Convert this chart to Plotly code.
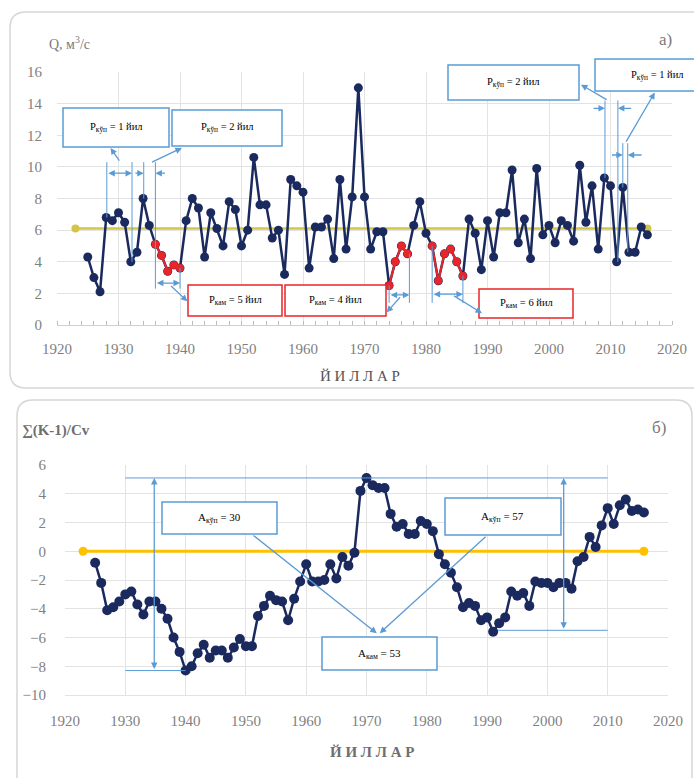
import plotly.graph_objects as go

W, H = 694, 778

years = list(range(1925, 2017))
q_values = [4.3, 3.0, 2.1, 6.8, 6.6, 7.1, 6.5, 4.0, 4.6, 8.0,
            6.3, 5.1, 4.4, 3.4, 3.8, 3.6, 6.6, 8.0, 7.4, 4.3,
            7.1, 6.1, 5.0, 7.8, 7.3, 5.0, 6.0, 10.6, 7.6, 7.6,
            5.5, 6.0, 3.2, 9.2, 8.8, 8.4, 3.6, 6.2, 6.2, 6.7,
            4.2, 9.2, 4.8, 8.1, 15.0, 8.1, 4.8, 5.9, 5.9, 2.5,
            4.0, 5.0, 4.5, 6.3, 7.8, 5.8, 5.0, 2.8, 4.5, 4.8,
            4.0, 3.1, 6.7, 5.8, 3.5, 6.6, 4.3, 7.1, 7.1, 9.8,
            5.2, 6.7, 4.2, 9.9, 5.7, 6.3, 5.2, 6.6, 6.3, 5.3,
            10.1, 6.5, 8.8, 4.8, 9.3, 8.8, 4.0, 8.7, 4.6, 4.6,
            6.2, 5.7]
cum_values = [-0.8, -2.2, -4.1, -3.9, -3.5, -3.0, -2.8, -3.7, -4.4, -3.5,
              -3.5, -4.0, -4.7, -6.0, -7.0, -8.3, -8.0, -7.1, -6.5, -7.4,
              -6.9, -6.9, -7.4, -6.7, -6.1, -6.6, -6.6, -4.5, -3.8, -3.1,
              -3.4, -3.5, -4.8, -3.3, -2.1, -0.9, -2.1, -2.1, -2.0, -0.9,
              -1.9, -0.4, -1.0, -0.1, 4.2, 5.1, 4.6, 4.4, 4.4, 2.6,
              1.7, 1.9, 1.2, 1.2, 2.1, 1.9, 1.4, -0.2, -0.9, -1.5,
              -2.5, -3.9, -3.6, -3.8, -4.8, -4.6, -5.6, -5.0, -4.6, -2.8,
              -3.1, -2.9, -3.8, -2.1, -2.2, -2.2, -2.5, -2.2, -2.2, -2.6,
              -0.7, -0.4, 1.0, 0.3, 1.8, 3.0, 1.9, 3.2, 3.6, 2.8,
              2.9, 2.7]
red_periods = [(1936, 1940), (1974, 1977), (1981, 1986)]
mean_years = [1923, 2016]
mean_q = [6.1, 6.1]
zero_line = [0, 0]
x_ticks = [1920, 1930, 1940, 1950, 1960, 1970, 1980, 1990, 2000, 2010, 2020]
ya_ticks = list(range(0, 17, 2))
yb_ticks = list(range(-10, 7, 2))

box_texts_a_blue = ["Р<sub>кўп</sub> = 1 йил", "Р<sub>кўп</sub> = 2 йил",
                    "Р<sub>кўп</sub> = 2 йил", "Р<sub>кўп</sub> = 1 йил"]
box_texts_a_red = ["Р<sub>кам</sub> = 5 йил", "Р<sub>кам</sub> = 4 йил", "Р<sub>кам</sub> = 6 йил"]
box_texts_b = ["A<sub>кўп</sub> = 30", "A<sub>кўп</sub> = 57", "A<sub>кам</sub> = 53"]

NAVY = "#1b2a5e"
RED = "#e8262a"
BLUE = "#5b9bd5"
GRID = "#e3e3e3"
TICK = "#7f7f7f"
FONT = "Liberation Serif"


def px(x):
    return x / W


def py(y):
    return 1 - y / H


fig = go.Figure()

# ---- panel a traces
fig.add_trace(go.Scatter(x=mean_years, y=mean_q, mode="lines+markers",
                         line=dict(color="#d2c64a", width=2.5),
                         marker=dict(size=8, color="#d2c64a"),
                         xaxis="x", yaxis="y", showlegend=False))
fig.add_trace(go.Scatter(x=years, y=q_values, mode="lines+markers",
                         line=dict(color=NAVY, width=2.5),
                         marker=dict(size=9, color=NAVY),
                         xaxis="x", yaxis="y", showlegend=False))
for a, b in red_periods:
    xs = [yr for yr in years if a <= yr <= b]
    ys = [q_values[years.index(yr)] for yr in xs]
    fig.add_trace(go.Scatter(x=xs, y=ys, mode="lines+markers",
                             line=dict(color=RED, width=2),
                             marker=dict(size=8, color=RED),
                             xaxis="x", yaxis="y", showlegend=False))

# ---- panel b traces
fig.add_trace(go.Scatter(x=mean_years, y=zero_line, mode="lines+markers",
                         line=dict(color="#ffc000", width=3),
                         marker=dict(size=9, color="#ffc000"),
                         xaxis="x2", yaxis="y2", showlegend=False))
fig.add_trace(go.Scatter(x=years, y=cum_values, mode="lines+markers",
                         line=dict(color=NAVY, width=2.5),
                         marker=dict(size=10, color=NAVY),
                         xaxis="x2", yaxis="y2", showlegend=False))

shapes = []
annotations = []


def rounded(x0, y0, x1, y1, r=16):
    path = (f"M {px(x0 + r)},{py(y0)} L {px(x1 - r)},{py(y0)} "
            f"Q {px(x1)},{py(y0)} {px(x1)},{py(y0 + r)} "
            f"L {px(x1)},{py(y1 - r)} Q {px(x1)},{py(y1)} {px(x1 - r)},{py(y1)} "
            f"L {px(x0 + r)},{py(y1)} Q {px(x0)},{py(y1)} {px(x0)},{py(y1 - r)} "
            f"L {px(x0)},{py(y0 + r)} Q {px(x0)},{py(y0)} {px(x0 + r)},{py(y0)} Z")
    shapes.append(dict(type="path", xref="paper", yref="paper", path=path,
                       line=dict(color="#d6d6d6", width=1.5), layer="below"))


rounded(10, 12, 712, 388)
rounded(17, 400, 692, 800)


def vline(ax, x, y0, y1):
    shapes.append(dict(type="line", xref=ax[0], yref=ax[1], x0=x, x1=x, y0=y0, y1=y1,
                       line=dict(color=BLUE, width=1)))


def hline(ax, y, x0, x1):
    shapes.append(dict(type="line", xref=ax[0], yref=ax[1], x0=x0, x1=x1, y0=y, y1=y,
                       line=dict(color=BLUE, width=1)))


def arrow(ax, x0, y0, x1, y1, both=False):
    annotations.append(dict(xref=ax[0], yref=ax[1], axref=ax[0], ayref=ax[1],
                            x=x1, y=y1, ax=x0, ay=y0, text="", showarrow=True,
                            arrowhead=2, arrowsize=1, arrowwidth=1.3,
                            arrowcolor=BLUE,
                            arrowside="end+start" if both else "end"))


def box(x0, y0, x1, y1, text, color, size=10.5):
    shapes.append(dict(type="rect", xref="paper", yref="paper",
                       x0=px(x0), x1=px(x1), y0=py(y1), y1=py(y0),
                       fillcolor="white", line=dict(color=color, width=1.5)))
    annotations.append(dict(xref="paper", yref="paper", x=px((x0 + x1) / 2),
                            y=py((y0 + y1) / 2), text=text, showarrow=False,
                            xanchor="center", yanchor="middle",
                            font=dict(family=FONT, size=size, color="black")))


A = ("x", "y")
B = ("x2", "y2")

# panel a: upper-left brackets
vline(A, 1928.1, 10.3, 6.8)
vline(A, 1932.2, 10.3, 4.0)
vline(A, 1934.1, 10.3, 8.0)
vline(A, 1936.0, 10.3, 2.3)
vline(A, 1940.0, 3.6, 2.3)
arrow(A, 1928.1, 9.6, 1932.2, 9.6, both=True)
arrow(A, 1932.5, 9.6, 1934.1, 9.6)
arrow(A, 1937.8, 9.6, 1936.0, 9.6)
arrow(A, 1930.3, 10.3, 1928.7, 11.2)
arrow(A, 1935.2, 10.25, 1940.3, 11.2)
# red periods
arrow(A, 1936.0, 2.65, 1940.0, 2.65, both=True)
arrow(A, 1938.3, 2.55, 1941.2, 1.5)
vline(A, 1974.0, 2.5, 1.4)
vline(A, 1977.3, 4.5, 1.4)
arrow(A, 1974.0, 1.9, 1977.3, 1.9, both=True)
arrow(A, 1976.0, 1.85, 1973.6, 0.8)
vline(A, 1981.0, 5.0, 1.4)
vline(A, 1986.0, 3.1, 1.4)
arrow(A, 1981.0, 1.95, 1986.0, 1.95, both=True)
arrow(A, 1984.3, 1.9, 1989.1, 0.75)
# upper-right brackets
vline(A, 2009.1, 14.2, 9.3)
vline(A, 2011.2, 14.2, 4.0)
vline(A, 2012.0, 11.5, 8.7)
vline(A, 2012.8, 11.5, 4.6)
arrow(A, 2007.0, 13.7, 2009.1, 13.7)
arrow(A, 2013.6, 13.7, 2011.2, 13.7)
arrow(A, 2010.0, 10.75, 2012.0, 10.75)
arrow(A, 2015.3, 10.75, 2012.8, 10.75)
arrow(A, 2009.6, 14.2, 2005.2, 15.2)
arrow(A, 2012.4, 11.5, 2017.2, 14.7)

box(63, 108, 169, 147, box_texts_a_blue[0], BLUE)
box(172, 110, 282, 146, box_texts_a_blue[1], BLUE)
box(448, 65, 579, 100, box_texts_a_blue[2], BLUE)
box(595, 59, 720, 91, box_texts_a_blue[3], BLUE)
box(188, 285, 282, 316, box_texts_a_red[0], RED)
box(285, 285, 386, 316, box_texts_a_red[1], RED)
box(479, 289, 573, 318, box_texts_a_red[2], RED)

# panel b
hline(B, 5.1, 1930, 2010)
hline(B, -8.3, 1930, 1940)
hline(B, -5.5, 1991.8, 2010)
arrow(B, 1934.8, -8.3, 1934.8, 5.1, both=True)
arrow(B, 2002.7, -5.5, 2002.7, 5.1, both=True)
arrow(B, 1951.0, 1.18, 1971.7, -5.7)
arrow(B, 1990.0, 1.1, 1972.2, -5.7)
box(162, 502, 277, 534, box_texts_b[0], BLUE, 11)
box(445, 498, 561, 535, box_texts_b[1], BLUE, 11)
box(322, 637, 437, 670, box_texts_b[2], BLUE, 11)


# titles / labels
def label(x, y, text, size, color, bold=False, anchor="left"):
    annotations.append(dict(xref="paper", yref="paper", x=px(x), y=py(y),
                            text=f"<b>{text}</b>" if bold else text,
                            showarrow=False, xanchor=anchor, yanchor="middle",
                            font=dict(family=FONT, size=size, color=color)))


label(47, 43, "Q, м<sup>3</sup>/с", 14, "#7a7a7a")
label(674, 40, "а)", 17, "#7a7a7a", anchor="right")
label(360, 376, "Й И Л Л А Р", 15, "#555555", anchor="center")
label(20, 430, "∑(K-1)/Cv", 15, "#6e6e6e", bold=True)
label(668, 427, "б)", 17, "#7a7a7a", anchor="right")
label(372, 752, "Й И Л Л А Р", 15, "#6e6e6e", bold=True, anchor="center")

axis_common = dict(showgrid=True, gridcolor=GRID, gridwidth=1.2, zeroline=False,
                   tickfont=dict(family=FONT, size=15, color=TICK),
                   automargin=False, fixedrange=True)

fig.update_layout(
    width=W, height=H,
    margin=dict(l=0, r=0, t=0, b=0),
    paper_bgcolor="white", plot_bgcolor="white",
    showlegend=False,
    shapes=shapes, annotations=annotations,
    xaxis=dict(domain=[px(57), px(672)], range=[1920, 2020], tickvals=x_ticks,
               anchor="y", ticklabelstandoff=10, showline=True, linecolor="#d0d0d0",
               minor=dict(ticks="inside", dtick=2, ticklen=4, tickcolor="#bcbcbc",
                          showgrid=False),
               **axis_common),
    yaxis=dict(domain=[py(325), py(72)], range=[0, 16], tickvals=ya_ticks,
               anchor="x", ticklabelstandoff=14, **axis_common),
    xaxis2=dict(domain=[px(65), px(668)], range=[1920, 2020], tickvals=x_ticks,
                anchor="y2", ticklabelstandoff=12, showline=True, linecolor=GRID,
                **axis_common),
    yaxis2=dict(domain=[py(695), py(465)], range=[-10, 6], tickvals=yb_ticks,
                anchor="x2", ticklabelstandoff=18, **axis_common),
)

fig.write_html("out.html", config={"displayModeBar": False},
               post_script="document.body.style.margin='0';document.body.style.overflow='hidden';")
